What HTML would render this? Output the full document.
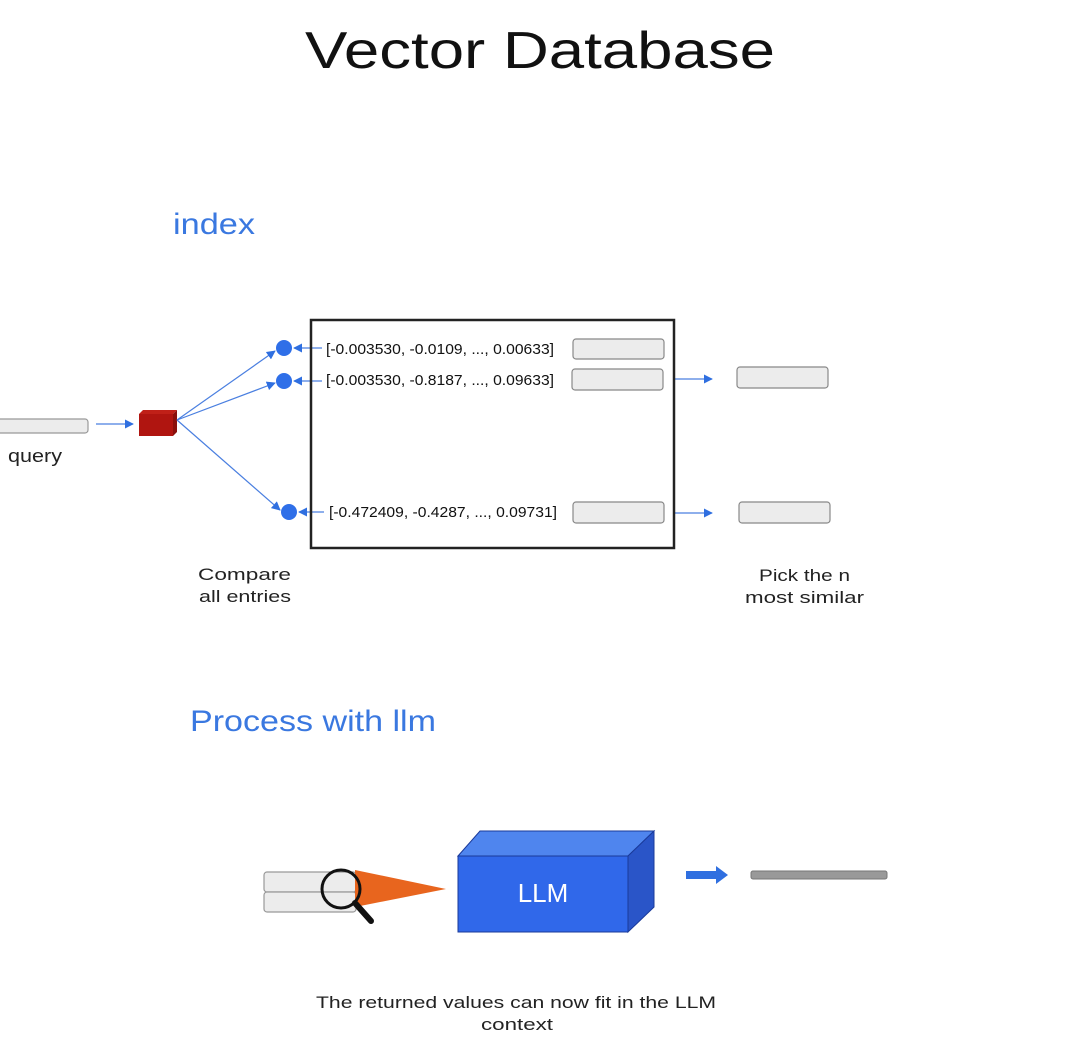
<!DOCTYPE html>
<html><head><meta charset="utf-8"><style>
html,body{margin:0;padding:0;background:#fff;width:1080px;height:1060px;overflow:hidden}
svg{display:block}
.s{font-family:"Liberation Sans","DejaVu Sans",sans-serif}
.c{font-family:"Liberation Sans",sans-serif;font-size:15px;fill:#111}
</style></head><body>
<svg width="1080" height="1060" viewBox="0 0 1080 1060" xmlns="http://www.w3.org/2000/svg">
<defs>
<marker id="ah" viewBox="0 0 10 10" refX="9" refY="5" markerWidth="9" markerHeight="9" markerUnits="userSpaceOnUse" orient="auto">
<path d="M0,0 L10,5 L0,10 z" fill="#2f6fe0"/></marker>
</defs>
<text x="305" y="68" class="s" font-size="52" fill="#111" textLength="470" lengthAdjust="spacingAndGlyphs">Vector Database</text>
<text x="173" y="234" class="s" font-size="30" fill="#3a78e0" textLength="82" lengthAdjust="spacingAndGlyphs">index</text>

<rect x="-4" y="419" width="92" height="14" rx="3" fill="#ececec" stroke="#999" stroke-width="1.2"/>
<text x="8" y="462" class="s" font-size="18" fill="#222" textLength="54" lengthAdjust="spacingAndGlyphs">query</text>
<line x1="96" y1="424" x2="133" y2="424" stroke="#4a7fe0" stroke-width="1.3" marker-end="url(#ah)"/>
<polygon points="139,414 143,410 177,410 173,414" fill="#c02018"/>
<polygon points="173,414 177,410 177,432 173,436" fill="#8a100c"/>
<rect x="139" y="414" width="34" height="22" fill="#b01510"/>

<g stroke="#4a7fe0" stroke-width="1.2" fill="none">
<line x1="177" y1="420" x2="275" y2="351" marker-end="url(#ah)"/>
<line x1="177" y1="420" x2="275" y2="383" marker-end="url(#ah)"/>
<line x1="177" y1="420" x2="280" y2="510" marker-end="url(#ah)"/>
<line x1="322" y1="348" x2="294" y2="348" marker-end="url(#ah)"/>
<line x1="322" y1="381" x2="294" y2="381" marker-end="url(#ah)"/>
<line x1="324" y1="512" x2="299" y2="512" marker-end="url(#ah)"/>
<line x1="674" y1="379" x2="712" y2="379" marker-end="url(#ah)"/>
<line x1="674" y1="513" x2="712" y2="513" marker-end="url(#ah)"/>
</g>
<circle cx="284" cy="348" r="8" fill="#2f6fe8"/>
<circle cx="284" cy="381" r="8" fill="#2f6fe8"/>
<circle cx="289" cy="512" r="8" fill="#2f6fe8"/>

<rect x="311" y="320" width="363" height="228" fill="none" stroke="#222" stroke-width="2.5"/>
<text x="326" y="354" class="c" textLength="228" lengthAdjust="spacingAndGlyphs">[-0.003530, -0.0109, ..., 0.00633]</text>
<text x="326" y="385" class="c" textLength="228" lengthAdjust="spacingAndGlyphs">[-0.003530, -0.8187, ..., 0.09633]</text>
<text x="329" y="517" class="c" textLength="228" lengthAdjust="spacingAndGlyphs">[-0.472409, -0.4287, ..., 0.09731]</text>
<g fill="#ececec" stroke="#888" stroke-width="1.2">
<rect x="573" y="339" width="91" height="20" rx="3"/>
<rect x="572" y="369" width="91" height="21" rx="3"/>
<rect x="573" y="502" width="91" height="21" rx="3"/>
<rect x="737" y="367" width="91" height="21" rx="3"/>
<rect x="739" y="502" width="91" height="21" rx="3"/>
</g>
<text x="198" y="580" class="s" font-size="17" fill="#222" textLength="93" lengthAdjust="spacingAndGlyphs">Compare</text>
<text x="199" y="602" class="s" font-size="17" fill="#222" textLength="92" lengthAdjust="spacingAndGlyphs">all entries</text>
<text x="759" y="581" class="s" font-size="17" fill="#222" textLength="91" lengthAdjust="spacingAndGlyphs">Pick the n</text>
<text x="745" y="603" class="s" font-size="17" fill="#222" textLength="119" lengthAdjust="spacingAndGlyphs">most similar</text>

<text x="190" y="731" class="s" font-size="30" fill="#3a78e0" textLength="246" lengthAdjust="spacingAndGlyphs">Process with llm</text>

<g fill="#ececec" stroke="#999" stroke-width="1.2">
<rect x="264" y="872" width="92" height="20" rx="3"/>
<rect x="264" y="892" width="92" height="20" rx="3"/>
</g>
<polygon points="355,870 446,889 355,907" fill="#e8651e"/>
<circle cx="341" cy="889" r="19" fill="none" stroke="#111" stroke-width="3"/>
<line x1="355" y1="903" x2="371" y2="921" stroke="#111" stroke-width="6" stroke-linecap="round"/>

<polygon points="458,856 480,831 654,831 628,856" fill="#4f85ee" stroke="#1a3a9a" stroke-width="1"/>
<polygon points="628,856 654,831 654,907 628,932" fill="#2a55c8" stroke="#1a3a9a" stroke-width="1"/>
<rect x="458" y="856" width="170" height="76" fill="#3068ea" stroke="#1a3a9a" stroke-width="1"/>
<text x="543" y="902" text-anchor="middle" class="s" font-size="26" fill="#fff">LLM</text>

<polygon points="686,871 716,871 716,866 728,875 716,884 716,879 686,879" fill="#2f6fe0"/>
<rect x="751" y="871" width="136" height="8" rx="2" fill="#999" stroke="#777" stroke-width="1"/>

<text x="316" y="1008" class="s" font-size="17" fill="#222" textLength="400" lengthAdjust="spacingAndGlyphs">The returned values can now fit in the LLM</text>
<text x="481" y="1030" class="s" font-size="17" fill="#222" textLength="72" lengthAdjust="spacingAndGlyphs">context</text>
</svg>
</body></html>
